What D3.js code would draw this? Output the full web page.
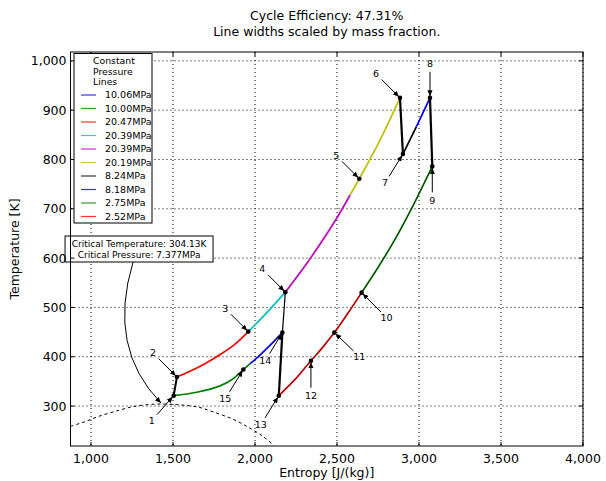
<!DOCTYPE html>
<html>
<head>
<meta charset="utf-8">
<script src="https://cdn.jsdelivr.net/npm/d3@7"></script>
<style>
body { margin: 0; background: #fff; }
text { font-family: "DejaVu Sans", sans-serif; fill: #000; }
</style>
</head>
<body>
<svg id="chart" width="606" height="481"></svg>
<script>
// ---- data (entropy J/(kg K), temperature K) ----
var titleLines = ["Cycle Efficiency: 47.31%", "Line widths scaled by mass fraction."];
var xTicks = [1000, 1500, 2000, 2500, 3000, 3500, 4000];
var yTicks = [300, 400, 500, 600, 700, 800, 900, 1000];

var stateLabels = ["1","2","3","4","5","6","7","8","9","10","11","12","13","14","15"];
var stateS = [1504, 1524, 1959, 2185, 2636, 2884, 2902, 3067, 3081, 2650, 2484, 2341, 2145, 2167, 1929];
var stateT = [321, 359, 451, 531, 761, 925, 811, 925, 786, 530, 449, 392, 321, 449, 374];

var legendNames = ["10.06MPa", "10.00MPa", "20.47MPa", "20.39MPa", "20.39MPa",
                   "20.19MPa", "8.24MPa", "8.18MPa", "2.75MPa", "2.52MPa"];

// constant pressure lines (same order as the legend)
var line1006 = [[1970,386],[2010,397],[2091,423],[2167,449]];
var line1000 = [[1504,321],[1644,328],[1787,341],[1860,354],[1929,374],[1970,386]];
var line2047 = [[1524,359],[1600,370],[1700,387],[1800,407],[1880,426],[1959,451]];
var line2039a = [[1959,451],[2071,489],[2185,531]];
var line2039b = [[2185,531],[2300,582],[2400,630],[2500,682],[2580,728]];
var line2019 = [[2580,728],[2636,761],[2760,838],[2884,925]];
var line824 = [[2902,811],[2985,867]];
var line818 = [[2985,867],[3067,925]];
var line275 = [[3081,786],[2960,704],[2850,636],[2750,581],[2650,530]];
var line252 = [[2650,530],[2560,485],[2484,449],[2400,414],[2341,392],[2250,356],[2145,321]];

// compression / expansion processes
var process12 = [[1504,321],[1524,359]];
var process67 = [[2884,925],[2902,811]];
var process89 = [[3067,925],[3081,786]];
var process1314 = [[2145,321],[2167,449]];
var process144 = [[2167,449],[2185,531]];

// saturation dome
var domeS = [876, 960, 1055, 1177, 1258, 1350, 1433, 1520, 1600, 1665, 1746, 1868, 1970, 2051, 2115];
var domeT = [259, 268, 280, 292, 299, 303, 304.13, 303, 300.5, 297, 288, 273, 255, 238, 220];
var criticalS = 1433, criticalT = 304.13;
var criticalText = ["Critical Temperature: 304.13K", "Critical Pressure: 7.377MPa"];

// ---- layout ----
var svg = d3.select("#chart");
var pLeft = 70.5, pRight = 583, pTop = 52, pBottom = 446;

var x = d3.scaleLinear().domain([875, 4000]).range([pLeft, pRight]);
var y = d3.scaleLinear().domain([219, 1018]).range([pBottom, pTop]);
var fmt = d3.format(",");

var defs = svg.append("defs");
defs.append("clipPath").attr("id", "clip")
  .append("rect").attr("x", pLeft).attr("y", pTop)
  .attr("width", pRight - pLeft).attr("height", pBottom - pTop);
defs.append("marker").attr("id", "head")
  .attr("viewBox", "0 -3 6 6").attr("refX", 6).attr("refY", 0)
  .attr("markerWidth", 6).attr("markerHeight", 6)
  .attr("markerUnits", "userSpaceOnUse").attr("orient", "auto")
  .append("path").attr("d", "M0,-2.6L6,0L0,2.6Z").attr("fill", "#000");

// title
svg.selectAll(".title").data(titleLines).enter().append("text")
  .attr("x", (pLeft + pRight) / 2).attr("y", function(d, i) { return 20 + i * 16; })
  .attr("text-anchor", "middle").attr("font-size", 12.5).text(function(d) { return d; });

// grid
var grid = svg.append("g");
grid.selectAll(".gx").data(xTicks).enter().append("line")
  .attr("x1", function(d) { return x(d); }).attr("x2", function(d) { return x(d); })
  .attr("y1", pTop).attr("y2", pBottom);
grid.selectAll(".gy").data(yTicks).enter().append("line")
  .attr("y1", function(d) { return y(d); }).attr("y2", function(d) { return y(d); })
  .attr("x1", pLeft).attr("x2", pRight);
grid.selectAll("line").attr("stroke", "#000").attr("stroke-width", 1)
  .attr("stroke-dasharray", "1,3");

// plot content
var plot = svg.append("g").attr("clip-path", "url(#clip)");
var line = d3.line().x(function(d) { return x(d[0]); }).y(function(d) { return y(d[1]); })
  .curve(d3.curveCatmullRom);

var dome = d3.zip(domeS, domeT);
plot.append("path").attr("d", line(dome))
  .attr("fill", "none").attr("stroke", "#000").attr("stroke-width", 1)
  .attr("stroke-dasharray", "3,3");

function draw(pts, color, w) {
  plot.append("path").attr("d", line(pts)).attr("fill", "none")
    .attr("stroke", color).attr("stroke-width", w).attr("stroke-linecap", "butt");
}
draw(line1000, "#008000", 1.7);
draw(line1006, "#0000ff", 1.7);
draw(line2047, "#ff0000", 1.7);
draw(line2039a, "#00bfbf", 1.7);
draw(line2039b, "#bf00bf", 1.7);
draw(line2019, "#bfbf00", 1.7);
draw(line824, "#000000", 1.7);
draw(line818, "#0000ff", 1.7);
draw(line275, "#008000", 1.7);
draw(line252, "#ff0000", 1.7);
draw(line275, "#000000", 0.5);
draw(line252, "#000000", 0.5);

draw(process12, "#000", 2);
draw(process67, "#000", 2.2);
draw(process89, "#000", 2.2);
draw(process1314, "#000", 2.2);
draw(process144, "#000", 1.2);

// state points
plot.selectAll(".pt").data(stateLabels).enter().append("circle")
  .attr("cx", function(d, i) { return x(stateS[i]); })
  .attr("cy", function(d, i) { return y(stateT[i]); })
  .attr("r", 2.3).attr("fill", "#000");

// labels with arrows (pixel offsets of the label from its point)
var labelOffsets = [[-22,25],[-24,-24],[-23,-23],[-23,-23],[-23,-23],[-24,-24],[-18,29],
                    [0,-34],[0,34],[25,25],[25,24],[0,35],[-18,29],[-17,28],[-18,29]];
var ann = svg.append("g");
stateLabels.forEach(function(lab, i) {
  var px = x(stateS[i]), py = y(stateT[i]);
  var tx = px + labelOffsets[i][0], ty = py + labelOffsets[i][1];
  var dx = px - tx, dy = py - ty, len = Math.sqrt(dx * dx + dy * dy);
  var ux = dx / len, uy = dy / len;
  ann.append("text").attr("x", tx).attr("y", ty + 3.3).attr("text-anchor", "middle")
    .attr("font-size", 9.5).text(lab);
  ann.append("line")
    .attr("x1", tx + ux * 8).attr("y1", ty + uy * 8)
    .attr("x2", px - ux * 1.5).attr("y2", py - uy * 1.5)
    .attr("stroke", "#000").attr("stroke-width", 1).attr("marker-end", "url(#head)");
});

// critical point annotation
var boxCx = x(1293), boxCy = y(618.5);
var box = svg.append("g");
box.append("rect").attr("x", boxCx - 74).attr("y", boxCy - 13)
  .attr("width", 148).attr("height", 26).attr("fill", "#fff")
  .attr("stroke", "#000").attr("stroke-width", 1);
box.selectAll("text").data(criticalText).enter().append("text")
  .attr("x", boxCx).attr("y", function(d, i) { return boxCy - 2 + i * 11; })
  .attr("text-anchor", "middle").attr("font-size", 9).text(function(d) { return d; });
var cx = x(criticalS), cy = y(criticalT);
var sx = boxCx - 6, sy = boxCy + 13;
box.append("path")
  .attr("d", "M" + sx + "," + sy + " Q" + (sx - 26) + "," + (sy + 86) + " " + (cx - 1) + "," + (cy - 1))
  .attr("fill", "none").attr("stroke", "#000").attr("stroke-width", 1)
  .attr("marker-end", "url(#head)");

// frame, ticks, labels
var axes = svg.append("g");
axes.append("rect").attr("x", pLeft).attr("y", pTop)
  .attr("width", pRight - pLeft).attr("height", pBottom - pTop)
  .attr("fill", "none").attr("stroke", "#000").attr("stroke-width", 1);
xTicks.forEach(function(t) {
  axes.append("line").attr("x1", x(t)).attr("x2", x(t)).attr("y1", pBottom).attr("y2", pBottom - 4).attr("stroke", "#000");
  axes.append("line").attr("x1", x(t)).attr("x2", x(t)).attr("y1", pTop).attr("y2", pTop + 4).attr("stroke", "#000");
  axes.append("text").attr("x", x(t)).attr("y", pBottom + 17).attr("text-anchor", "middle")
    .attr("font-size", 12.5).text(fmt(t));
});
yTicks.forEach(function(t) {
  axes.append("line").attr("y1", y(t)).attr("y2", y(t)).attr("x1", pLeft).attr("x2", pLeft + 4).attr("stroke", "#000");
  axes.append("line").attr("y1", y(t)).attr("y2", y(t)).attr("x1", pRight).attr("x2", pRight - 4).attr("stroke", "#000");
  axes.append("text").attr("x", pLeft - 4).attr("y", y(t) + 4.5).attr("text-anchor", "end")
    .attr("font-size", 12.5).text(fmt(t));
});
axes.append("text").attr("x", (pLeft + pRight) / 2).attr("y", 477).attr("text-anchor", "middle")
  .attr("font-size", 12.5).text("Entropy [J/(kg)]");
axes.append("text").attr("transform", "translate(19," + ((pTop + pBottom) / 2) + ") rotate(-90)")
  .attr("text-anchor", "middle").attr("font-size", 12.5).text("Temperature [K]");

// legend
var lcolors = ["#0000ff", "#008000", "#ff0000", "#00bfbf", "#bf00bf", "#bfbf00", "#000000", "#0000ff", "#008000", "#ff0000"];
var lg = svg.append("g");
lg.append("rect").attr("x", 74).attr("y", 53.5).attr("width", 78).attr("height", 169.5)
  .attr("fill", "#fff").attr("stroke", "#000").attr("stroke-width", 1);
["Constant", "Pressure", "Lines"].forEach(function(t, i) {
  lg.append("text").attr("x", 93).attr("y", 64 + i * 10.7).attr("font-size", 9.3).text(t);
});
legendNames.forEach(function(name, i) {
  var ly = 95 + i * 13.5;
  lg.append("line").attr("x1", 81).attr("x2", 96).attr("y1", ly).attr("y2", ly)
    .attr("stroke", lcolors[i]).attr("stroke-width", 1.2).attr("opacity", 0.8);
  lg.append("text").attr("x", 105).attr("y", ly + 3.4).attr("font-size", 9.5).text(name);
});
</script>
</body>
</html>
